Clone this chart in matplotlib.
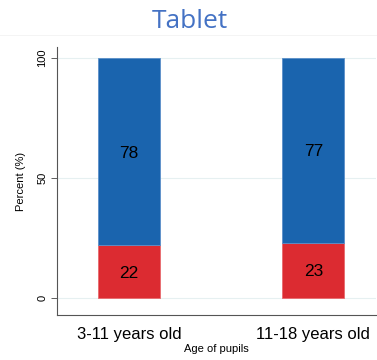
import matplotlib
matplotlib.use("Agg")
import matplotlib.pyplot as plt

categories = ["3-11 years old", "11-18 years old"]
red_vals = [22, 23]
blue_vals = [78, 77]
yticks = [0, 50, 100]

plt.rcParams['font.family'] = ['Liberation Sans', 'DejaVu Sans']

fig = plt.figure(figsize=(3.77, 3.6), dpi=100)
W, H = 377, 360
ax = fig.add_axes([57 / W, (H - 315) / H, (376 - 57) / W, (315 - 47) / H])

x = list(range(len(categories)))
width = 0.337
red_c = "#dc2b31"
blue_c = "#1a64ae"
ax.bar(x, red_vals, width=width, color=red_c, edgecolor="#e86a6e", linewidth=0.6, zorder=3)
ax.bar(x, blue_vals, bottom=red_vals, width=width, color=blue_c, edgecolor="#5b8fc9", linewidth=0.6, zorder=3)

for xi, r, b in zip(x, red_vals, blue_vals):
    ax.text(xi, r / 2, str(r), ha="center", va="center_baseline", fontsize=12.5, color="black", zorder=4)
    ax.text(xi, r + b / 2, str(b), ha="center", va="center_baseline", fontsize=12.5, color="black", zorder=4)

ax.set_xlim(-0.391, 1.34)
ax.set_ylim(-7.1, 104.6)
ax.set_yticks(yticks)
ax.set_yticklabels([str(t) for t in yticks], rotation=90, va="center", fontsize=8)
ax.set_xticks(x)
ax.set_xticklabels(categories, fontsize=12)
ax.tick_params(axis="x", length=0, pad=9)
ax.tick_params(axis="y", length=4, width=0.6, color="#444444", pad=3)
ax.grid(axis="y", color="#e6f0f1", linewidth=0.8, zorder=0)
for s in ["top", "right"]:
    ax.spines[s].set_visible(False)
for s in ["left", "bottom"]:
    ax.spines[s].set_color("#555555")
    ax.spines[s].set_linewidth(0.8)

ax.set_ylabel("Percent (%)", fontsize=8, labelpad=8)
ax.set_xlabel("Age of pupils", fontsize=8, labelpad=1)

fig.text(190 / W, 1 - 18 / H, "Tablet", ha="center", va="center_baseline",
         fontsize=19, color="#4472c4", family=["Open Sans", "DejaVu Sans"])
fig.add_artist(plt.Line2D([0, 1], [1 - 35 / H, 1 - 35 / H], color="#f2f2f2", linewidth=0.6))

fig.savefig("out.png", dpi=100)
